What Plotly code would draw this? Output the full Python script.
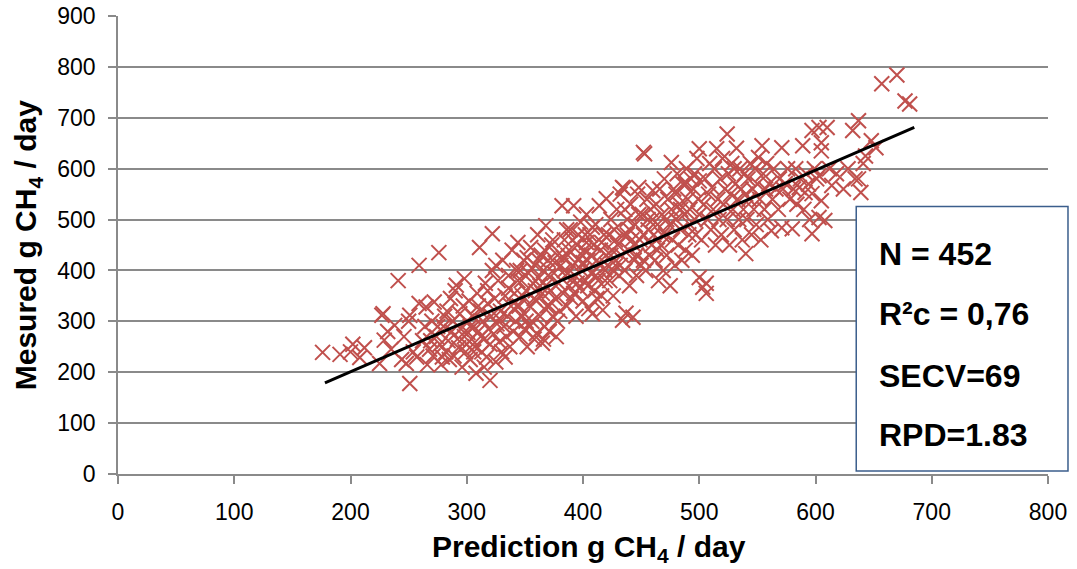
import plotly.graph_objects as go

pred = [
    176, 191, 200, 202, 208, 212,
    225, 227, 228, 229, 232, 235, 238, 241, 244, 246, 248, 250, 251, 251, 254, 257, 259, 259,
    262, 264, 265, 266, 268, 270, 271, 272, 274, 276, 277, 278, 280, 281, 282, 284, 285, 286, 287, 288,
    289, 290, 291, 292, 293, 294, 295, 296, 297, 298, 298, 299, 300, 300, 283, 275, 269, 279,
    301, 302, 303, 304, 305, 306, 307, 308, 309, 310, 311, 312, 313, 314, 315, 316, 317, 318, 319, 320,
    320, 321, 322, 322, 323, 324, 325, 326, 327, 328, 329, 330, 331, 332, 333, 334, 335, 336, 337, 338,
    339, 340, 310, 315, 318, 325, 328, 333, 336, 303, 306, 312,
    341, 342, 343, 344, 345, 346, 347, 348, 349, 350, 351, 352, 353, 354, 355, 356, 357, 358, 359, 360,
    360, 361, 362, 363, 364, 365, 365, 366, 367, 368, 368, 369, 370, 371, 372, 373, 374, 375, 376, 377,
    378, 379, 380, 344, 348, 352, 356, 358, 362, 366, 370, 374, 378, 346, 354, 363, 371, 376, 343, 351,
    359, 367,
    381, 382, 383, 384, 385, 386, 387, 388, 389, 390, 391, 392, 393, 394, 395, 396, 397, 398, 399, 400,
    401, 402, 403, 404, 405, 406, 407, 408, 409, 410, 411, 412, 413, 414, 415, 416, 417, 418, 419, 420,
    420, 384, 388, 392, 396, 400, 404, 408, 412, 416, 419, 383, 387, 391, 395, 399, 403, 407, 411, 415,
    386, 402,
    421, 422, 423, 424, 425, 426, 427, 428, 429, 430, 431, 432, 433, 434, 434, 435, 435, 436, 437, 438,
    439, 440, 441, 442, 443, 444, 445, 446, 447, 448, 449, 450, 451, 452, 452, 453, 454, 455, 456, 457,
    458, 459, 460, 460, 424, 428, 432, 436, 440, 444, 448, 452, 456, 426, 438, 446,
    461, 462, 463, 464, 465, 466, 467, 468, 469, 470, 471, 472, 473, 474, 475, 476, 476, 477, 478, 479,
    480, 481, 482, 483, 484, 485, 486, 487, 488, 489, 490, 491, 492, 493, 494, 495, 496, 497, 498, 499,
    500, 500, 500, 500, 464, 468, 472, 480, 484, 488, 492, 496,
    502, 503, 504, 505, 506, 506, 507, 508, 509, 510, 511, 512, 513, 514, 515, 516, 517, 518, 519, 520,
    521, 522, 524, 524, 525, 526, 527, 528, 529, 530, 531, 532, 533, 534, 535, 536, 537, 538, 539, 540,
    540, 530,
    541, 542, 543, 544, 545, 546, 547, 548, 549, 550, 551, 552, 553, 554, 555, 556, 557, 558, 559, 560,
    562, 563, 564, 566, 568, 569, 571, 571, 572, 574, 576, 578,
    580, 581, 583, 584, 586, 587, 589, 590, 591, 592, 594, 595, 597, 597, 597, 599, 601, 603, 603, 603,
    605, 605, 605, 608, 610, 612, 614, 618,
    624, 628, 632, 634, 637, 637, 639, 641, 643, 648, 652, 657, 670, 677, 681,
]
meas = [
    239, 235, 240, 255, 229, 248,
    217, 312, 315, 263, 280, 245, 292, 380, 225, 270, 217, 300, 178, 312, 240, 230, 335, 410,
    262, 290, 328, 215, 245, 300, 232, 338, 270, 435, 255, 215, 290, 310, 240, 262, 225, 345, 280, 300,
    232, 360, 371, 265, 248, 315, 285, 210, 330, 384, 270, 240, 300, 255, 320, 290, 262, 230,
    278, 340, 225, 265, 310, 290, 250, 198, 355, 280, 445, 320, 240, 300, 265, 375, 230, 335, 285, 184,
    255, 310, 472, 400, 275, 345, 220, 295, 380, 260, 320, 240, 420, 290, 350, 270, 310, 390, 250, 330,
    440, 280, 330, 210, 360, 410, 305, 230, 365, 290, 240, 270,
    355, 300, 400, 455, 330, 270, 380, 310, 420, 285, 360, 250, 395, 330, 445, 300, 375, 265, 410, 276,
    340, 470, 385, 310, 430, 257, 355, 400, 290, 488, 370, 330, 420, 280, 360, 450, 310, 395, 345, 270,
    430, 375, 320, 380, 350, 425, 405, 345, 420, 265, 390, 460, 300, 400, 290, 370, 330, 415, 330, 300,
    360, 440,
    410, 527, 355, 460, 390, 330, 430, 370, 480, 345, 410, 527, 390, 310, 450, 420, 365, 495, 400, 340,
    440, 380, 510, 420, 325, 470, 395, 315, 450, 360, 490, 420, 380, 527, 440, 350, 322, 470, 400, 541,
    430, 400, 440, 355, 470, 415, 370, 485, 345, 455, 380, 425, 395, 460, 375, 430, 455, 430, 390, 410,
    480, 470,
    410, 470, 380, 500, 440, 350, 480, 410, 520, 450, 390, 550, 430, 302, 563, 561, 470, 400, 316, 500,
    440, 370, 530, 460, 308, 420, 490, 390, 550, 563, 460, 410, 510, 632, 470, 629, 400, 540, 480, 430,
    520, 450, 557, 500, 430, 460, 410, 520, 480, 450, 510, 420, 500, 400, 470, 430,
    470, 420, 530, 490, 380, 560, 450, 510, 400, 580, 470, 430, 540, 490, 370, 612, 520, 460, 560, 410,
    500, 590, 450, 530, 480, 420, 570, 510, 440, 600, 540, 470, 520, 580, 430, 560, 500, 470, 620, 540,
    386, 576, 639, 510, 440, 470, 500, 550, 520, 570, 490, 590,
    460, 367, 530, 580, 355, 375, 500, 550, 610, 480, 563, 520, 600, 450, 639, 540, 500, 580, 470, 620,
    530, 560, 668, 500, 590, 450, 550, 610, 520, 480, 570, 640, 540, 500, 600, 560, 460, 520, 590, 433,
    550, 600,
    500, 580, 540, 610, 470, 560, 520, 600, 490, 570, 622, 540, 460, 645, 590, 520, 560, 610, 500, 570,
    478, 540, 600, 560, 520, 580, 641, 484, 560, 571, 600, 540,
    482, 560, 600, 530, 563, 580, 645, 520, 553, 590, 570, 500, 675, 551, 472, 600, 580, 681, 586, 504,
    635, 651, 537, 498, 681, 600, 567, 590,
    560, 600, 675, 580, 694, 580, 553, 610, 625, 655, 641, 767, 784, 733, 727,
]

# Regression line end points
fit_x = [178, 685]
fit_y = [179, 681]

stats = ["N = 452", "R²c = 0,76", "SECV=69", "RPD=1.83"]
x_ticks = [0, 100, 200, 300, 400, 500, 600, 700, 800]
y_ticks = [0, 100, 200, 300, 400, 500, 600, 700, 800, 900]

GRID = "#8a8a8a"
FONT = "Liberation Sans, Arial, sans-serif"

fig = go.Figure()
fig.add_trace(go.Scatter(
    x=pred, y=meas, mode="markers",
    marker=dict(symbol="x-thin", size=15, color="#C0504D",
                line=dict(color="#C0504D", width=2)),
    showlegend=False, hoverinfo="x+y",
))
fig.add_trace(go.Scatter(
    x=fit_x, y=fit_y, mode="lines",
    line=dict(color="black", width=3),
    showlegend=False,
))

fig.update_layout(
    width=1077, height=569,
    margin=dict(l=118, r=29, t=16, b=95, autoexpand=False),
    paper_bgcolor="white", plot_bgcolor="white",
    font=dict(family=FONT, color="black"),
    xaxis=dict(
        range=[0, 800], tickvals=x_ticks, ticktext=[str(v) for v in x_ticks],
        showgrid=False, zeroline=False,
        showline=True, linecolor=GRID, linewidth=1.5,
        ticks="outside", ticklen=8, tickcolor=GRID, tickwidth=1.5,
        tickfont=dict(size=23, family=FONT, color="black"),
        ticklabelstandoff=9,
    ),
    yaxis=dict(
        range=[0, 900], tickvals=y_ticks, ticktext=[str(v) for v in y_ticks],
        showgrid=True, gridcolor=GRID, gridwidth=1.5,
        zeroline=False,
        showline=True, linecolor=GRID, linewidth=1.5,
        ticks="outside", ticklen=8, tickcolor=GRID, tickwidth=1.5,
        tickfont=dict(size=23, family=FONT, color="black"),
        ticklabelstandoff=8,
    ),
)

# Axis titles
fig.add_annotation(
    text="<b>Prediction g CH<sub>4</sub> / day</b>",
    xref="paper", yref="paper", x=0.506, y=-0.163,
    xanchor="center", yanchor="middle", showarrow=False,
    font=dict(size=30, family=FONT, color="black"),
)
fig.add_annotation(
    text="<b>Mesured g CH<sub>4</sub> / day</b>",
    xref="paper", yref="paper", x=-0.097, y=0.499,
    xanchor="center", yanchor="middle", showarrow=False, textangle=-90,
    font=dict(size=30, family=FONT, color="black"),
)

# Stats box
fig.add_shape(
    type="rect", xref="paper", yref="paper",
    x0=0.7938, x1=1.0215, y0=0.0065, y1=0.5839,
    line=dict(color="#3B5E8C", width=1.5), fillcolor="white", layer="above",
)
ys = [0.4793, 0.3486, 0.2135, 0.085]
for txt, yy in zip(stats, ys):
    fig.add_annotation(
        text=f"<b>{txt}</b>", xref="paper", yref="paper",
        x=0.8163, y=yy, xanchor="left", yanchor="middle", showarrow=False,
        font=dict(size=32, family=FONT, color="black"),
    )

fig.write_html("out.html")
